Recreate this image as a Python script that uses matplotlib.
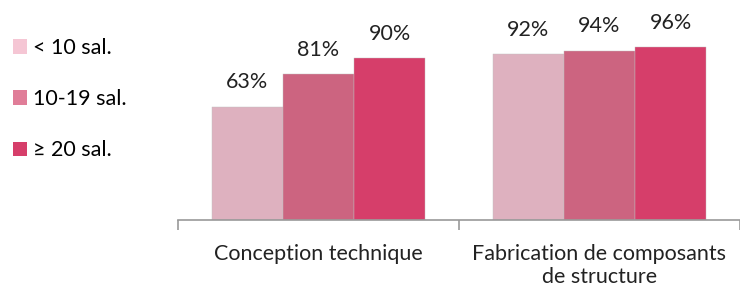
import matplotlib.pyplot as plt
from matplotlib.patches import Patch

categories = ["Conception technique", "Fabrication de composants\nde structure"]
series = ["< 10 sal.", "10-19 sal.", "≥ 20 sal."]
values = [
    [63, 92],
    [81, 94],
    [90, 96],
]

bar_colors = ["#DEB1BF", "#CC6480", "#D63E6A"]
legend_colors = ["#F5C6D4", "#E07D98", "#D63E6A"]

plt.rcParams["font.family"] = ["Lato", "DejaVu Sans"]

W, H = 740, 287
FS = 15.5
fig = plt.figure(figsize=(W / 100, H / 100), dpi=100)
ax = fig.add_axes([178 / W, (H - 220) / H, (W - 178) / W, 220 / H])

width = 0.253
for i, (name, vals) in enumerate(zip(series, values)):
    xs = [c + (i - 1) * width for c in range(len(categories))]
    bars = ax.bar(xs, vals, width=width, color=bar_colors[i],
                  edgecolor="#C0C0C0", linewidth=0.3, zorder=2)
    for b, v in zip(bars, vals):
        ax.text(b.get_x() + b.get_width() / 2, v + 8, f"{v}%",
                ha="center", va="bottom", fontsize=FS, color="#222222",
                clip_on=False)

ax.set_xlim(-0.5, -0.5 + (W - 178) / 286)
ax.set_ylim(0, 220 / 1.8)

for s in ["top", "right", "left"]:
    ax.spines[s].set_visible(False)
ax.spines["bottom"].set_color("#999999")
ax.spines["bottom"].set_linewidth(1.2)
ax.set_yticks([])
ax.set_xticks([-0.5, 0.5, 1.5])
ax.set_xticklabels([])
ax.tick_params(axis="x", length=7, color="#999999", width=1.2, direction="out")

ax.text(0, -13.5, categories[0], ha="center", va="top", fontsize=FS, color="#222222")
ax.text(1, -13.5, categories[1], ha="center", va="top", fontsize=FS, color="#222222",
        linespacing=1.15)

handles = [Patch(facecolor=c, edgecolor="none") for c in legend_colors]
fig.legend(handles, series, loc="upper left", bbox_to_anchor=(0.0, 1 - 25 / H),
           frameon=False, fontsize=FS, handlelength=0.65, handleheight=0.65,
           handletextpad=0.3, labelspacing=1.45, borderaxespad=0.2)

fig.savefig("out.png", dpi=100)
